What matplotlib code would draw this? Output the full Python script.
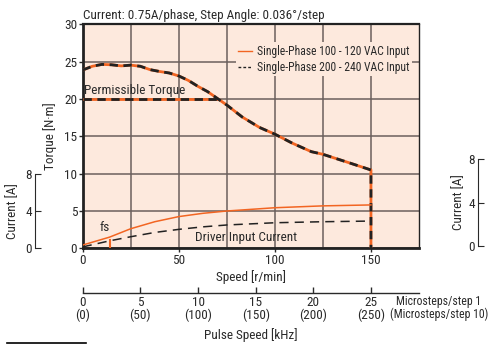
import matplotlib
matplotlib.use("Agg")
import matplotlib.pyplot as plt
from matplotlib.lines import Line2D

plt.rcParams['font.family'] = ['Roboto Condensed', 'DejaVu Sans']

# torque curve (both inputs overlap), ends with the drop at 150 r/min
speed = [0, 5, 10, 15, 20, 25, 30, 35, 40, 45, 50, 55, 60, 65, 70, 75, 83, 92, 100, 109,
         119, 125, 137, 150, 150]
torque = [23.9, 24.4, 24.65, 24.6, 24.45, 24.55, 24.4, 23.95, 23.7, 23.5, 23.1, 22.5, 21.7,
          21.0, 20.1, 19.2, 17.6, 16.2, 15.3, 14.1, 12.95, 12.6, 11.6, 10.5, 0]
perm_speed = [0, 70]
perm_torque = [20, 20]

# driver input current [A]
cur_speed = [0, 14, 25, 37.5, 50, 62.5, 75, 100, 125, 150]
cur_100v = [0.35, 1.2, 2.1, 2.85, 3.4, 3.75, 4.0, 4.35, 4.55, 4.65]
cur_200v = [0.15, 0.8, 1.24, 1.7, 2.03, 2.3, 2.5, 2.74, 2.85, 2.92]
fs_speed = 14

pulse_ticks = [0, 5, 10, 15, 20, 25]
pulse_labels = ["0\n(0)", "5\n(50)", "10\n(100)", "15\n(150)", "20\n(200)", "25\n(250)"]

BG = "#fde9dd"
ORANGE = "#f26522"
TXT = "#2a2a2a"
GRID = "#6b5f5c"
FS = 9.5

fig = plt.figure(figsize=(4.9, 3.45), dpi=100)
ax = fig.add_axes([0.1688, 0.2803, 0.6863, 0.6487])
ax.set_facecolor(BG)
ax.set_xlim(0, 175)
ax.set_ylim(0, 30)
ax.set_xticks([0, 50, 100, 150])
ax.set_xticks([25, 75, 125], minor=True)
ax.set_yticks([0, 5, 10, 15, 20, 25, 30])
ax.grid(True, which='both', color=GRID, lw=1.1)
ax.tick_params(which='major', length=3, width=1, labelsize=FS, colors=TXT, pad=1)
ax.tick_params(which='minor', length=0)
for s in ax.spines.values():
    s.set_color("#222222")
    s.set_linewidth(1.0)
ax.spines['left'].set_linewidth(2)
ax.spines['bottom'].set_linewidth(2)
ax.spines['top'].set_linewidth(1.6)

# torque
ax.plot(speed, torque, color=ORANGE, lw=2, solid_capstyle='butt', zorder=3)
ax.plot(speed, torque, color="#222222", lw=2, dashes=(3, 2), zorder=4)
ax.plot(perm_speed, perm_torque, color=ORANGE, lw=2, zorder=3)
ax.plot(perm_speed, perm_torque, color="#222222", lw=2, dashes=(3, 2), zorder=4)

ax.set_xlabel("Speed [r/min]", fontsize=FS, color=TXT, labelpad=2)
ax.set_ylabel("Torque [N·m]", fontsize=FS, color=TXT)
ax.yaxis.set_label_coords(-0.076, 0.5)
ax.set_title("Current: 0.75A/phase, Step Angle: 0.036°/step", fontsize=FS, color=TXT,
             loc='left', pad=4)
ax.text(0.8, 21.2, "Permissible Torque", fontsize=FS, color=TXT, va='center', zorder=5)

handles = [Line2D([], [], color=ORANGE, lw=1),
           Line2D([], [], color="#222222", lw=1, ls=(0, (2, 1.5)))]
leg = ax.legend(handles, ["Single-Phase 100 - 120 VAC Input", "Single-Phase 200 - 240 VAC Input"],
                loc='upper right', bbox_to_anchor=(0.985, 0.93), fontsize=8.4, frameon=True,
                facecolor=BG, edgecolor='none', framealpha=1, handlelength=1.2,
                handletextpad=0.4, labelspacing=0.25, borderpad=0.2, borderaxespad=0.2)
for t in leg.get_texts():
    t.set_color(TXT)
leg.set_zorder(6)

# current axis
ax2 = ax.twinx()
ax2.set_ylim(0, 24)
ax2.plot(cur_speed, cur_100v, color=ORANGE, lw=1.1)
ax2.plot(cur_speed, cur_200v, color="#222222", lw=1.1, dashes=(6, 4))
ax2.plot([fs_speed, fs_speed], [0, 0.9], color=ORANGE, lw=1.5)
ax2.text(11.5, 2.2, "fs", fontsize=FS, color=TXT, ha='center', va='center')
ax2.text(85, 1.2, "Driver Input Current", fontsize=FS, color=TXT, ha='center', va='center')
ax2.spines['right'].set_visible(False)
ax2.spines['top'].set_visible(False)
ax2.spines['bottom'].set_visible(False)
ax2.spines['left'].set_visible(True)
ax2.spines['left'].set_position(('axes', -0.142))
ax2.spines['left'].set_bounds(0, 8)
ax2.spines['left'].set_color(TXT)
ax2.spines['left'].set_linewidth(0.8)
ax2.yaxis.set_ticks_position('left')
ax2.yaxis.set_label_position('left')
ax2.set_yticks([0, 4, 8])
ax2.tick_params(axis='y', direction='in', length=4, width=0.8, labelsize=FS, colors=TXT, pad=2)
ax2.set_ylabel("Current [A]", fontsize=FS, color=TXT)
ax2.yaxis.set_label_coords(-0.188, 4 / 24)

# pulse speed axis
ax3 = fig.add_axes([0.1688, 0.1507, 0.6863, 0.0001])
ax3.set_xlim(0, 175 / 6)
ax3.set_yticks([])
for k in ['left', 'right', 'top']:
    ax3.spines[k].set_visible(False)
ax3.spines['bottom'].set_color(TXT)
ax3.spines['bottom'].set_linewidth(1)
ax3.set_xticks(pulse_ticks)
ax3.set_xticklabels(pulse_labels, linespacing=1.0)
ax3.tick_params(axis='x', direction='in', length=4, width=1, labelsize=FS, colors=TXT, pad=2)
ax3.set_xlabel("Pulse Speed [kHz]", fontsize=FS, color=TXT, labelpad=4)
fig.text(439 / 490, 1 - 308 / 345, "Microsteps/step 1\n(Microsteps/step 10)", fontsize=8.5,
         color=TXT, ha='center', va='center', linespacing=1.05)

# separator line at the bottom left
fig.add_artist(Line2D([7 / 490, 86 / 490], [2 / 345, 2 / 345], color='black', lw=1.2))

# edge of the neighbouring chart
ax4 = fig.add_axes([478 / 490, 1 - 246 / 345, 0.03, 87 / 345])
ax4.set_ylim(0, 8)
ax4.patch.set_visible(False)
ax4.set_xticks([])
ax4.set_yticks([0, 4, 8])
for k in ['right', 'top', 'bottom']:
    ax4.spines[k].set_visible(False)
ax4.spines['left'].set_color(TXT)
ax4.spines['left'].set_linewidth(0.8)
ax4.tick_params(axis='y', direction='in', length=4, width=0.8, labelsize=FS, colors=TXT, pad=2)
ax4.set_ylabel("Current [A]", fontsize=FS, color=TXT)
ax4.yaxis.set_label_coords(-0.88, 0.5)

fig.savefig("out.png", dpi=100)
